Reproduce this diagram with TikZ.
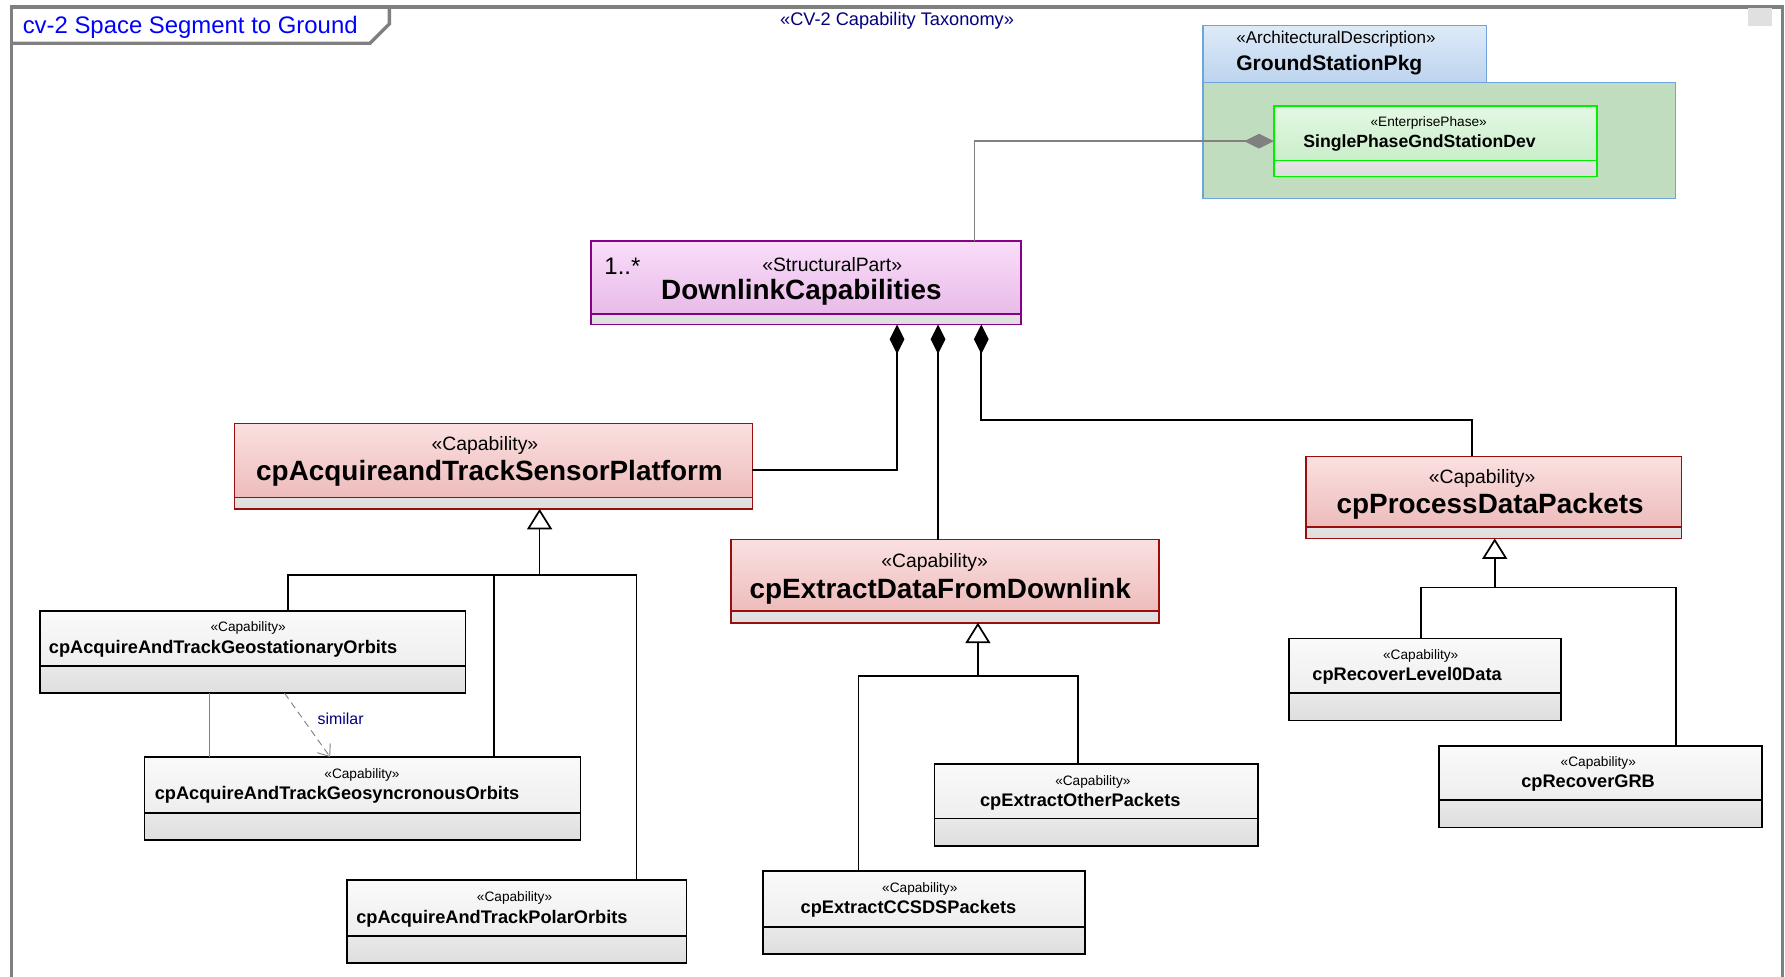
\documentclass[tikz,border=0pt]{standalone}
\usepackage{fontspec}
\setmainfont{Liberation Sans}
\usetikzlibrary{arrows.meta}

\definecolor{framegray}{HTML}{808080}
\definecolor{titleblue}{HTML}{0000FF}
\definecolor{navy}{HTML}{000080}
\definecolor{capline}{HTML}{9A0E0E}
\definecolor{captop}{HTML}{FBE0E0}
\definecolor{capbot}{HTML}{EBB6B6}
\definecolor{partline}{HTML}{880088}
\definecolor{parttop}{HTML}{F9DDF9}
\definecolor{partbot}{HTML}{E6B6E6}
\definecolor{pkgline}{HTML}{6FA3DC}
\definecolor{pkgtop}{HTML}{DDEBF8}
\definecolor{pkgbot}{HTML}{BDD3EE}
\definecolor{pkgbody}{HTML}{C0DDC0}
\definecolor{phaseline}{HTML}{00F000}
\definecolor{phasetop}{HTML}{E4F8E4}
\definecolor{phasebot}{HTML}{C2EBC2}
\definecolor{cornerbox}{HTML}{E0E0E0}

\newcommand{\fs}[1]{\fontsize{#1}{#1}\selectfont}

\tikzset{
  comph/.store in=\comph, comph=10,
  compline/.store in=\compline, compline=black,
  umlbox/.style={draw, line width=1.5pt, anchor=north west, inner sep=0pt, outer sep=0pt,
    path picture={
      \shade[top color=white, bottom color=black!13]
        (path picture bounding box.south west) rectangle
        ([yshift=\comph pt]path picture bounding box.south east);
      \draw[line width=1.5pt, draw=\compline]
        ([yshift=\comph pt]path picture bounding box.south west) --
        ([yshift=\comph pt]path picture bounding box.south east);}},
  capbox/.style={umlbox, draw=capline, compline=capline, top color=captop, bottom color=capbot, comph=10},
  partbox/.style={umlbox, draw=partline, compline=partline, top color=parttop, bottom color=partbot, comph=9},
  leafbox/.style={umlbox, draw=black, compline=black, top color=black!2, bottom color=black!9, comph=24},
  phasebox/.style={umlbox, draw=phaseline, compline=phaseline, top color=phasetop, bottom color=phasebot, comph=14},
  txt/.style={inner sep=0pt, outer sep=0pt, yshift=-2pt},
  stbig/.style={txt, font=\fs{17}},
  nmbig/.style={txt, font=\fs{24.5}\bfseries},
  stsmall/.style={txt, font=\fs{12}},
  nmsmall/.style={txt, font=\fs{16}\bfseries},
  link/.style={line width=1.5pt, draw=black},
  comp/.style={link, {Diamond[length=26pt, width=13pt]}-},
  gen/.style={link, -{Triangle[length=18pt, width=22pt, fill=white]}},
}

\begin{document}
\begin{tikzpicture}[x=1pt, y=-1pt]
\useasboundingbox (0,0) rectangle (1568,858);
\fill[white] (0,0) rectangle (1568,858);

% diagram frame and name tab
\draw[framegray, line width=3pt] (10,858) -- (10,6) -- (1566,6) -- (1566,858);
\draw[framegray, line width=3pt] (10,6) -- (342,6) -- (342,21) -- (325,38) -- (10,38);
\node[txt, anchor=west, font=\fs{21}, text=titleblue] (frametitle) at (20,22) {cv-2 Space Segment to Ground};
\node[txt, font=\fs{16}, text=navy] (taxonomy) at (788,16) {«CV-2 Capability Taxonomy»};
\node[fill=cornerbox, minimum width=21pt, minimum height=16pt, inner sep=0pt, anchor=north west] (corner) at (1535,7) {};

% ground station package
\node[draw=pkgline, line width=1.2pt, fill=pkgbody, minimum width=415pt, minimum height=102pt, anchor=north west, inner sep=0pt] (pkgbody) at (1056,72) {};
\node[draw=pkgline, line width=1.2pt, top color=pkgtop, bottom color=pkgbot, minimum width=249pt, minimum height=50pt, anchor=north west, inner sep=0pt] (pkgtab) at (1056,22) {};
\node[txt, anchor=west, font=\fs{15}] (pkgst) at (1086,32) {«ArchitecturalDescription»};
\node[txt, anchor=west, font=\fs{18.5}\bfseries] (pkgname) at (1086,55) {GroundStationPkg};

\node[phasebox, minimum width=284pt, minimum height=62pt] (phase) at (1119,93) {};
\node[stsmall] (phasest) at (1255,106) {«EnterprisePhase»};
\node[txt, font=\fs{15.5}\bfseries] (phasename) at (1247,124) {SinglePhaseGndStationDev};

% structural part
\node[partbox, minimum width=378pt, minimum height=73pt] (dl) at (519,212) {};
\node[txt, anchor=west, font=\fs{21}] (dlmult) at (531,232) {1..*};
\node[stbig] (dlst) at (731,230) {«StructuralPart»};
\node[nmbig] (dlname) at (704,255) {DownlinkCapabilities};

% top-level capabilities
\node[capbox, minimum width=455pt, minimum height=75pt] (sensor) at (206,372) {};
\node[stbig] (sensorst) at (426,389) {«Capability»};
\node[nmbig] (sensorname) at (430,414) {cpAcquireandTrackSensorPlatform};

\node[capbox, minimum width=376pt, minimum height=73pt] (extract) at (642,474) {};
\node[stbig] (extractst) at (821,492) {«Capability»};
\node[nmbig] (extractname) at (826,517) {cpExtractDataFromDownlink};

\node[capbox, minimum width=330pt, minimum height=72pt] (proc) at (1147,401) {};
\node[stbig] (procst) at (1302,418) {«Capability»};
\node[nmbig] (procname) at (1309,443) {cpProcessDataPackets};

% leaf capabilities
\node[leafbox, minimum width=374pt, minimum height=72pt] (geo) at (35,537) {};
\node[stsmall] (geost) at (218,550) {«Capability»};
\node[nmsmall, anchor=west] (geoname) at (43,568) {cpAcquireAndTrackGeostationaryOrbits};

\node[leafbox, minimum width=383pt, minimum height=73pt] (geosync) at (127,665) {};
\node[stsmall] (geosyncst) at (318,679) {«Capability»};
\node[nmsmall, anchor=west] (geosyncname) at (136,696) {cpAcquireAndTrackGeosyncronousOrbits};

\node[leafbox, minimum width=298pt, minimum height=73pt] (polar) at (305,773) {};
\node[stsmall] (polarst) at (452,787) {«Capability»};
\node[nmsmall, anchor=west] (polarname) at (313,805) {cpAcquireAndTrackPolarOrbits};

\node[leafbox, minimum width=283pt, minimum height=73pt] (ccsds) at (670,765) {};
\node[stsmall] (ccsdsst) at (808,779) {«Capability»};
\node[nmsmall] (ccsdsname) at (798,796) {cpExtractCCSDSPackets};

\node[leafbox, minimum width=284pt, minimum height=72pt] (other) at (821,671) {};
\node[stsmall] (otherst) at (960,685) {«Capability»};
\node[nmsmall] (othername) at (949,702) {cpExtractOtherPackets};

\node[leafbox, minimum width=239pt, minimum height=72pt] (lvl0) at (1132,561) {};
\node[stsmall] (lvl0st) at (1248,574) {«Capability»};
\node[nmsmall] (lvl0name) at (1236,592) {cpRecoverLevel0Data};

\node[leafbox, minimum width=284pt, minimum height=72pt] (grb) at (1264,655) {};
\node[stsmall] (grbst) at (1404,668) {«Capability»};
\node[nmsmall] (grbname) at (1395,686) {cpRecoverGRB};

% composition of the structural part
\draw[framegray, line width=1.2pt, -{Diamond[length=26pt, width=13pt, fill=framegray]}]
  (dl.north -| 856,0) |- (phase.west |- 0,124);
\draw[comp] (dl.south -| 788,0) |- (sensor.east |- 0,413);
\draw[comp] (dl.south -| 824,0) -- (extract.north -| 824,0);
\draw[comp] (dl.south -| 862,0) |- (1293,369) -- (proc.north -| 1293,0);

% generalizations
\draw[gen] (474,505) -- (sensor.south -| 474,0);
\draw[link] (geo.north -| 253,0) |- (559,505) -- (polar.north -| 559,0);
\draw[link] (434,505) -- (geosync.north -| 434,0);

\draw[gen] (859,594) -- (extract.south -| 859,0);
\draw[link] (ccsds.north -| 754,0) |- (947,594) -- (other.north -| 947,0);

\draw[gen] (1313,516) -- (proc.south -| 1313,0);
\draw[link] (lvl0.north -| 1248,0) |- (1472,516) -- (grb.north -| 1472,0);

% relations between the two geo orbit capabilities
\draw[framegray, line width=1.2pt] (geo.south -| 184,0) -- (geosync.north -| 184,0);
\draw[framegray, line width=0.8pt, dash pattern=on 6pt off 4pt, -{Straight Barb[length=9pt, width=14pt]}]
  (geo.south -| 250,0) -- (geosync.north -| 290,0);
\node[txt, anchor=west, font=\fs{14}, text=navy] (similar) at (279,629) {similar};
\end{tikzpicture}
\end{document}
